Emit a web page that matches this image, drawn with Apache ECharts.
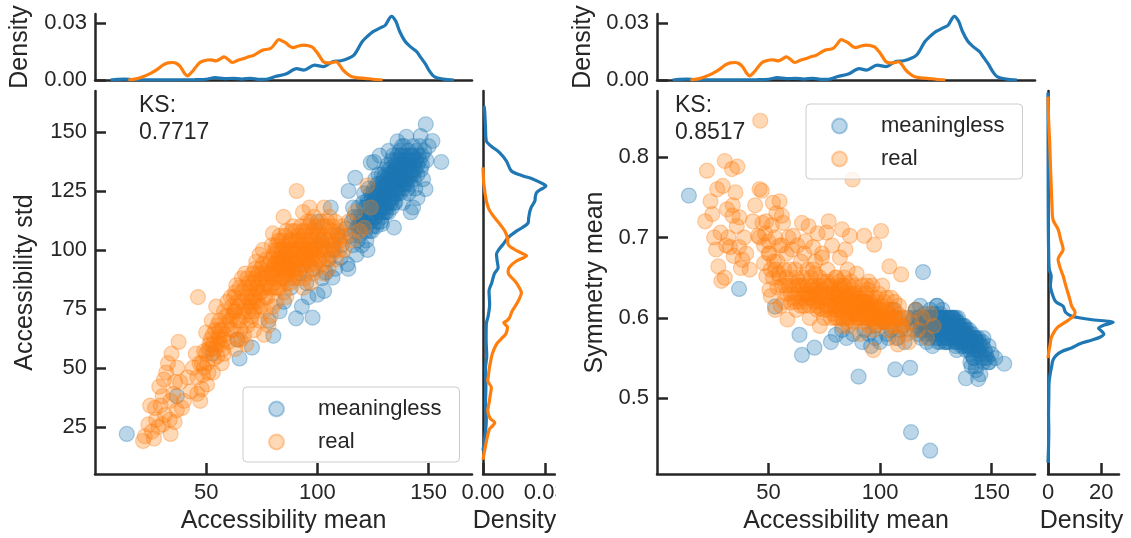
<!DOCTYPE html>
<html><head><meta charset="utf-8">
<script src="https://cdn.jsdelivr.net/npm/echarts@6/dist/echarts.min.js"></script>
<style>
html,body{margin:0;padding:0;background:#fff;}
#wrap{position:relative;width:1131px;height:538px;overflow:hidden;background:#fff;}
#left{position:absolute;left:0;top:0;width:556px;height:538px;}
#right{position:absolute;left:556px;top:0;width:575px;height:538px;}
</style></head>
<body><div id="wrap"><div id="left"></div><div id="right"></div></div>
<script>
// ---------------- DATA ----------------
const seriesNames = ['meaningless', 'real'];
const ksValues = ['0.7717', '0.8517'];
const meanTicks = [50, 100, 150];
const stdTicks = [25, 50, 75, 100, 125, 150];
const symTicks = [0.5, 0.6, 0.7, 0.8];
const densityTicksStd = [0, 0.03];
const densityTicksSym = [0, 20];

// each row: [Accessibility mean, Accessibility std, Symmetry mean]
const meaninglessPoints = [
[14.3,22,0.752],[36.8,38,0.636],[52.9,56,0.614],[65,54,0.554],[63.9,62,0.579],[70.6,58.6,0.563],[80.2,63.6,0.579],[90.4,71,0.527],[97.8,71.3,0.575],[93,76,0.585],
[100,81,0.57],[103,82.6,0.58],[106.8,88.3,0.536],[103.8,90.4,0.575],[110.5,96.7,0.59],[113.5,94,0.538],[113.9,92,0.458],[122.5,100,0.435],[109,106.6,0.585],[112.8,109,0.6],
[101.6,103.8,0.595],[88,84,0.58],[85,78,0.575],[95,86,0.58],[98,92,0.59],[105,96,0.585],[107,100,0.6],[111,102,0.57],[119.3,112,0.657],[116,118,0.61],
[117,130.6,0.6],[114,125,0.595],[124,137,0.6],[125.5,137.3,0.615],[100,112,0.6],[106,118,0.61],[92,90,0.57],[96,80,0.565],[102,88,0.6],[108,92,0.575],
[78,70,0.57],[83,74,0.585],
[115,106,0.6],[115.5,112,0.585],[116,102,0.61],[116.5,114,0.59],[117,108,0.58],[117.5,98,0.6],[118,110,0.595],[118.5,118,0.575],[118,104,0.615],[119,106,0.585],
[119.5,114,0.6],[120,110,0.605],[120.5,120,0.58],[120,102,0.59],[121,114,0.57],[121.5,108,0.6],[121,124,0.595],[122,118,0.585],[122.5,112,0.61],[122,104,0.575],
[123,120,0.6],[123.5,108,0.59],[123,126,0.58],[123.5,115,0.565],[124,112,0.595],[124.5,122,0.605],[124,118,0.58],[125,116,0.59],[125.5,126,0.575],[125,110,0.6],
[125.5,120,0.615],[126,122,0.585],[126.5,114,0.595],[126,130,0.57],[126.5,118,0.6],[127,120,0.58],[127.5,126,0.59],[127,112,0.605],[127.5,132,0.595],[127,117,0.57],
[128,124,0.6],[128.5,118,0.585],[128,128,0.575],[128.5,112,0.59],[128,121,0.61],[129,126,0.58],[129.5,120,0.595],[129,132,0.59],[129.5,116,0.57],[129,123,0.6],
[130,122,0.585],[130.5,128,0.6],[130,118,0.575],[130.5,134,0.58],[130,125,0.59],[131,126,0.595],[131.5,120,0.58],[131,130,0.57],[131.5,136,0.59],[131,116,0.6],
[132,124,0.585],[132.5,130,0.595],[132,120,0.575],[132.5,126,0.6],[132,134,0.58],[133,128,0.59],[133.5,122,0.57],[133,132,0.6],[133.5,118,0.585],[133,125,0.58],
[133.5,138,0.575],[134,130,0.585],[134.5,126,0.595],[134,122,0.565],[134.5,134,0.58],[134,127,0.6],[135,128,0.575],[135.5,132,0.59],[135,136,0.57],[135.5,124,0.585],
[135,120,0.595],[136,134,0.58],[136.5,128,0.565],[136,130,0.59],[136.5,138,0.585],[136,124,0.575],[137,132,0.57],[137.5,136,0.58],[137,126,0.59],[137.5,140,0.565],
[137,129,0.585],[138,134,0.575],[138.5,130,0.56],[138,138,0.585],[138.5,126,0.57],[139,136,0.58],[139.5,132,0.565],[139,128,0.575],[139.5,140,0.57],[140,134,0.56],
[140.5,138,0.575],[140,130,0.585],[140.5,126,0.545],[141,136,0.57],[141.5,132,0.58],[141,140,0.555],[142,138,0.565],[142.5,134,0.575],[142,128,0.55],[143,140,0.57],
[143.5,136,0.56],[143,132,0.54],[144,138,0.575],[144.5,142,0.56],[144,126,0.524],[145,136,0.565],[145.5,140,0.55],[146,144,0.57],[146.4,148.3,0.575],[146.5,134,0.545],
[147,140,0.56],[147.5,130,0.555],[148,142,0.55],[148.7,153.3,0.565],[148.6,125.8,0.545],[149,138,0.545],[150,144,0.555],[151.7,146.2,0.55],[155.7,137.3,0.543],[143,118,0.535],
[145,122,0.53],[142,116,0.55],[138.5,120,0.525],[134.4,109.5,0.56],[129,111,0.57],[141,124,0.54],[128,140,0.6],[132,142,0.59],[136,146,0.58],[140,148,0.57],
[138,144,0.575],[134,140,0.585],
[120,112,0.59],[121,118,0.6],[122,110,0.585],[122.5,121,0.59],[123,114,0.6],[124,124,0.585],[124.5,108,0.595],[125,120,0.58],[125.5,114,0.59],[126,124,0.6],
[126.5,110,0.575],[127,128,0.585],[127.5,116,0.6],[128,120,0.59],[128.5,126,0.58],[129,114,0.595],[129.5,129,0.585],[130,120,0.6],[130.5,116,0.59],[130,131,0.575],
[131,122,0.58],[131.5,128,0.59],[132,116,0.6],[132.5,122,0.575],[132,128,0.585],[133,120,0.595],[133.5,130,0.58],[133,135,0.59],[134,124,0.575],[134.5,120,0.59],
[134,133,0.57],[135,126,0.6],[135.5,130,0.58],[135,134,0.59],[136,126,0.585],[136.5,132,0.575],[136,140,0.57],[137,124,0.58],[137.5,130,0.59],[137,134,0.575],
[138,128,0.58],[138.5,136,0.57],[138,132,0.59],[139,130,0.585],[139.5,134,0.575],[139,138,0.565],[140,128,0.57],[140.5,132,0.58],[140,136,0.565],[141,130,0.575],
[141.5,138,0.57],[142,132,0.56],[142.5,140,0.575],[143,134,0.565],[143.5,130,0.57],[144,134,0.56],[144.5,138,0.57],[145,132,0.555],[146,138,0.565],[147,136,0.55],
[128,116,0.6],[129,118,0.585],[131,118,0.59],[133,126,0.6],[134,128,0.58],[136,136,0.57],[138,140,0.58],[127,122,0.59],[125,124,0.595],[123,117,0.605],
[121,111,0.59],[119,110,0.6],[118,114,0.585],[130,127,0.57],[132,132,0.6],[135,138,0.585],[137,142,0.575],[139,144,0.57],[141,142,0.565],[143,144,0.575]
];

const realPoints = [
[21.6,19,0.72],[22.4,21,0.783],[24,26,0.745],[24.8,34,0.729],[25.6,23,0.70],[26.5,20,0.685],[27.5,28,0.664],[28.5,25,0.706],[28.9,42,0.646],[29.5,34,0.764],
[30.4,26,0.795],[30.4,38,0.65],[31.4,30,0.735],[32,48,0.70],[32.8,52,0.688],[33.6,28,0.785],[33.9,36,0.727],[34.4,56,0.677],[35.2,39,0.756],[35.8,27,0.714],
[36.8,32,0.688],[37.6,61,0.662],[36,44,0.788],[38.3,44,0.672],[39.1,33,0.70],[34,22,0.74],[31,45,0.69],[37,50,0.725],[27,33,0.76],[40,36,0.68],
[41.6,46,0.66],[43,40,0.72],[45.3,56,0.702],[46,39,0.76],[46.3,80,0.845],[47.3,36,0.718],[48,41,0.668],[49,57,0.652],[50.4,43,0.635],[51,58,0.627],
[47,52,0.758],[52,62,0.743],[53,48,0.61],[54,66,0.638],[55,55,0.745],[56,70,0.727],[56.5,60,0.718],[57,52,0.62],[58,74,0.68],[58.5,64,0.598],
[59,68,0.70],[52.5,70,0.67],[50,65,0.695],[54.5,76,0.655],[57.5,58,0.64],[59.5,78,0.66],[53.5,54,0.73],[48.5,47,0.705],[55.5,63,0.615],[60,61,0.619],
[44,50,0.74],[50.5,52,0.68],[58,56,0.63],[56,66,0.69],[51.5,60,0.715],
[61,66,0.702],[62,72,0.66],[63,58,0.64],[64,78,0.62],[65,70,0.718],[66,82,0.68],[67,64,0.63],[68,76,0.714],[69,86,0.65],[62.5,80,0.61],
[64.5,62,0.67],[66.5,74,0.695],[68.5,68,0.60],[63.5,85,0.645],[61.5,76,0.625],[67.5,90,0.66],[65.5,66,0.65],[69.5,78,0.635],[60.5,70,0.685],[66,88,0.615],
[68,60,0.625],[63,74,0.69],[70,84,0.688],
[70.5,72,0.64],[71,90,0.67],[71.5,66,0.62],[72,80,0.705],[72.5,95,0.63],[73,76,0.65],[73.5,86,0.612],[74,70,0.68],[74.5,92,0.645],[75,82,0.6],
[75.5,100,0.625],[76,74,0.706],[76.4,88,0.66],[77,96,0.63],[77.5,80,0.615],[78,68,0.64],[78.5,90,0.69],[79,84,0.605],[79.5,102,0.635],[80,107,0.65],
[80,76,0.62],[71,78,0.655],[73,84,0.59],[74,98,0.675],[76,64,0.61],[77,86,0.72],[78,94,0.6],[79,72,0.63],[72,88,0.61],[75,90,0.64],
[76.5,80,0.645],[79.5,90,0.615],[70,76,0.66],
[80.5,86,0.63],[81,94,0.61],[81.5,78,0.645],[82,100,0.62],[82.5,90,0.6],[83,84,0.71],[83.5,96,0.64],[84,104,0.615],[84.8,114,0.625],[85,88,0.595],
[85.5,98,0.66],[86,80,0.63],[86.5,92,0.702],[87,102,0.61],[87.7,96,0.772],[88,86,0.62],[88.5,108,0.64],[89,94,0.6],[89.5,100,0.655],[90,90,0.615],
[90.7,125,0.63],[80.5,98,0.65],[81,84,0.6],[82,92,0.675],[83,106,0.59],[84,94,0.64],[85,82,0.625],[86,100,0.605],[87,90,0.645],[88,98,0.595],
[89,110,0.62],[81.5,102,0.635],[82.5,96,0.61],[83.5,88,0.62],[85.5,106,0.6],[86.5,86,0.61],[87.5,104,0.63],[89.5,88,0.605],[84.5,100,0.685],[86,94,0.59],
[88,92,0.635],[80,92,0.6],
[90.5,96,0.6],[91,104,0.625],[91.5,88,0.61],[92,100,0.64],[92.5,110,0.595],[92.9,94,0.702],[93.5,84,0.62],[94,106,0.605],[94.5,98,0.635],[95,90,0.59],
[95.5,112,0.615],[96,102,0.6],[96.5,94,0.625],[97,86,0.61],[97.4,106,0.691],[98,98,0.595],[98.5,114,0.62],[99,92,0.605],[99.5,102,0.63],[100,108,0.6],
[100.5,96,0.708],[91,92,0.58],[93,102,0.61],[94,88,0.64],[95,108,0.6],[96,96,0.615],[97,112,0.585],[98,90,0.625],[99,106,0.61],[92,96,0.62],
[93.5,116,0.6],[96.5,118,0.64],[98.5,100,0.6],[90,104,0.605],[95,96,0.645],[97.5,100,0.59],[94,102,0.62],
[101,100,0.61],[101.5,112,0.595],[102,94,0.62],[102.5,106,0.6],[103,118,0.625],[103.5,100,0.585],[104,110,0.605],[104.2,96,0.664],[105,104,0.61],[105.5,114,0.6],
[106,98,0.59],[106.5,108,0.62],[107,102,0.575],[108,112,0.605],[108.5,96,0.615],[109.5,106,0.654],[110,104,0.59],[101,106,0.64],[103,90,0.6],[105,92,0.625],
[111,110,0.6],[112,100,0.58],[113,106,0.57],[114,112,0.595],[116,104,0.61],[117,116,0.585],[119,108,0.6],[121,109.4,0.575],[122.5,127.4,0.605],[124,118,0.59],
[97,100,0.56],[108,104,0.567],
[60,72,0.63],[61,80,0.64],[62,66,0.62],[62.5,74,0.65],[63,82,0.63],[64,70,0.64],[64.5,76,0.615],[65,84,0.625],[65.5,62,0.64],[66,78,0.63],
[67,72,0.62],[67.5,84,0.64],[68,80,0.63],[68.5,88,0.615],[69,74,0.625],[69.5,82,0.64],[70,70,0.63],[70.5,80,0.62],[71,86,0.635],[71.5,74,0.625],
[72,92,0.615],[72.5,84,0.64],[73,78,0.63],[73.5,90,0.62],[74,82,0.635],[74.5,76,0.61],[75,88,0.625],[75.5,94,0.63],[76,84,0.615],[77,90,0.64],
[78,84,0.62],[79,96,0.63],[80,88,0.61],[80.5,94,0.625],[81,100,0.615],[81.5,90,0.63],[82,84,0.62],[82.5,104,0.61],[83,94,0.625],[83.5,100,0.6],
[84,88,0.62],[84.5,96,0.63],[85,102,0.61],[85.5,92,0.62],[86,108,0.6],[86.5,98,0.615],[87,94,0.625],[87.5,88,0.61],[88,104,0.62],[88.5,96,0.605],
[89,100,0.615],[89.5,92,0.62],[90,108,0.6],[90.5,100,0.61],[91,96,0.62],[91.5,106,0.605],[92,92,0.615],[92.5,102,0.6],[93,98,0.62],[93.5,108,0.61],
[94,94,0.6],[94.5,104,0.615],[95,100,0.605],[95.5,96,0.62],[96,110,0.6],[96.5,100,0.61],[97,104,0.6],[97.5,96,0.615],[98,108,0.605],[98.5,94,0.6],
[99,100,0.61],[99.5,110,0.595],[100,102,0.61],[82,96,0.64],[84,92,0.65],[86,90,0.64],[88,100,0.63],[90,94,0.625],[92,104,0.62],[94,98,0.63],
[100.5,106,0.6],[101,96,0.615],[102,102,0.595],[102.5,110,0.605],[103,98,0.61],[104,104,0.595],[104.5,112,0.6],[105,100,0.59],[106,106,0.6],[106.5,102,0.61],
[107,110,0.595],[108,100,0.6],[109,108,0.59],[110,100,0.6],[111,106,0.585],
[46,46,0.7],[48,52,0.69],[50,56,0.68],[51,48,0.66],[52,58,0.65],[53,64,0.66],[54,58,0.67],[55,68,0.65],[56,62,0.64],[57,66,0.66],
[58,62,0.65],[59,72,0.64],[53,60,0.7],[49,50,0.72],[55,60,0.69]
];

// KDE curves: [Accessibility mean, density]
const meaninglessMeanKde = [[7,0],[10,0.0003],[13.5,0.0005],[17,0.0002],[25,0.0001],[35,0.0001],[45,0.0002],[50,0.0004],[54,0.0012],[58,0.0007],[62,0.0009],[66,0.0005],[70,0.0009],[74,0.0003],[77,0.0004],[81,0.0018],[85.8,0.0031],[90.7,0.006],[93.9,0.0052],[98.7,0.0078],[102.7,0.007],[106.8,0.0096],[110.6,0.0101],[114,0.0114],[116.4,0.0131],[118,0.0158],[120.1,0.0201],[122.5,0.023],[125,0.0254],[128.5,0.0275],[130.5,0.0288],[133.3,0.0335],[135.2,0.031],[137,0.0255],[139.3,0.0205],[141.5,0.0178],[144.5,0.015],[146.5,0.0118],[148.6,0.0083],[150.5,0.0045],[152.5,0.0018],[156.6,0.0005],[161.4,0]];
const realMeanKde = [[15,0],[18.5,0.0006],[21.5,0.0017],[25,0.0035],[28,0.0056],[30.5,0.0078],[32.8,0.009],[35,0.0092],[36.5,0.0088],[38.4,0.007],[40.2,0.0035],[41.6,0.0022],[43.2,0.0038],[44.8,0.006],[46.5,0.0085],[48,0.0097],[50.5,0.0105],[52,0.0106],[54.5,0.0101],[56.5,0.0112],[58,0.0122],[59.8,0.0109],[61.7,0.0092],[64,0.0102],[66.6,0.0112],[69,0.0122],[71.4,0.013],[73.5,0.0145],[75.4,0.0157],[79,0.0166],[81,0.0192],[82.6,0.0213],[84,0.0206],[85.8,0.0195],[87.5,0.0178],[89,0.017],[91.5,0.0179],[93.9,0.0183],[96,0.018],[97.8,0.0172],[99.6,0.0148],[101,0.0125],[102.7,0.0096],[104.5,0.009],[106,0.009],[108.4,0.0096],[110,0.0078],[111.6,0.0052],[113.5,0.0032],[115.6,0.0017],[118.5,0.0011],[121.2,0.0009],[125,0.0004],[129.3,0]];
// [density, Accessibility std]
const meaninglessStdKde = [[0.0005,161],[0.0008,158.9],[0.0012,152],[0.0016,146.2],[0.004,144],[0.0081,141.2],[0.0113,137.7],[0.0137,133.5],[0.019,131.5],[0.0242,130],[0.0285,128.2],[0.0303,127.1],[0.0275,125.5],[0.0258,124.3],[0.0252,122.5],[0.025,120.8],[0.0235,118.5],[0.0226,116.5],[0.022,113.5],[0.0218,111.6],[0.019,109.5],[0.0161,108],[0.0121,105.2],[0.0097,102.4],[0.0075,100],[0.0065,98.2],[0.0068,95.5],[0.0073,92.5],[0.0055,90],[0.0042,86],[0.0029,82.6],[0.0032,77],[0.0025,72],[0.0016,68.6],[0.0015,62],[0.0018,55],[0.0012,50],[0.0014,42],[0.0012,35],[0.0016,28],[0.0011,22],[0.0005,18],[0,15]];
const realStdKde = [[0,135],[0.0004,128],[0.0016,120.8],[0.003,117],[0.0056,113.7],[0.0085,110.5],[0.0105,108],[0.0118,105],[0.0121,102.4],[0.015,100.3],[0.019,98.5],[0.021,97.5],[0.0185,96.3],[0.0161,95.3],[0.013,93],[0.0121,91.1],[0.0125,89.5],[0.0153,86.9],[0.0175,84],[0.0185,81.9],[0.0175,79.3],[0.0161,77],[0.014,74],[0.0128,71.3],[0.0115,70],[0.010,69.2],[0.0118,67.1],[0.011,64.4],[0.009,62.5],[0.0066,60.2],[0.0045,56],[0.0035,52],[0.0031,50.1],[0.0025,46],[0.0023,44.5],[0.004,41.7],[0.0035,38.5],[0.0031,36],[0.0023,31.8],[0.0035,28.5],[0.0057,26.8],[0.0045,25.3],[0.0031,24],[0.0017,19.1],[0.0005,13.6],[0,11]];
// [density, Symmetry mean]
const meaninglessSymKde = [[0,0.88],[0.05,0.8],[0.1,0.72],[0.3,0.67],[0.5,0.66],[1.2,0.652],[0.9,0.64],[1.9,0.627],[3,0.62],[5.7,0.6145],[6.6,0.607],[9,0.602],[16,0.598],[24.5,0.5945],[21,0.591],[19,0.587],[20,0.584],[21,0.58],[19.5,0.576],[16,0.572],[12,0.568],[9,0.563],[5,0.558],[3,0.553],[1.8,0.547],[1.4,0.54],[0.8,0.53],[0.4,0.52],[0.3,0.5],[0.2,0.48],[0.3,0.46],[0.2,0.44],[0.1,0.43],[0,0.42]];
const realSymKde = [[0,0.875],[0.1,0.86],[0.3,0.84],[0.6,0.82],[0.9,0.79],[1.26,0.76],[1.5,0.74],[1.9,0.722],[3.8,0.71],[4.8,0.697],[5.7,0.685],[4.5,0.678],[3.8,0.673],[4.6,0.662],[5.7,0.652],[6.6,0.641],[7.5,0.631],[8.3,0.622],[8.9,0.6145],[10.2,0.607],[9.5,0.602],[7.5,0.597],[5.2,0.592],[3.5,0.588],[2.2,0.582],[1.2,0.575],[0.7,0.565],[0.3,0.558],[0,0.55]];

// ---------------- STYLE ----------------
const FONT = '"Liberation Sans", Arial, Helvetica, sans-serif';
const INK = '#262626';
const BLUE = '31,119,180';
const ORANGE = '255,127,14';
const LW = 2.5;

function scatterSeries(name, rgb, data) {
  return {
    type: 'scatter', name: name, xAxisIndex: 0, yAxisIndex: 0,
    data: data, symbol: 'circle', symbolSize: 15,
    itemStyle: { color: 'rgba(' + rgb + ',0.3)', borderColor: 'rgba(' + rgb + ',0.35)', borderWidth: 1.2, opacity: 1 },
    emphasis: { disabled: true }, z: 2
  };
}
function kdeSeries(name, rgb, grid, data) {
  return {
    type: 'line', name: name, xAxisIndex: grid, yAxisIndex: grid,
    data: data, showSymbol: false, symbol: 'none', smooth: 0.3,
    lineStyle: { color: 'rgb(' + rgb + ')', width: 3.2 }, emphasis: { disabled: true }, z: 3
  };
}
function axisBase(extra) {
  return Object.assign({
    type: 'value',
    axisLine: { show: true, onZero: false, lineStyle: { color: INK, width: LW } },
    splitLine: { show: false },
    nameTextStyle: { fontSize: 25, color: INK, fontFamily: FONT }
  }, extra);
}
function ticked(values, fmt) {
  return {
    axisTick: { show: true, inside: true, length: 11, customValues: values, lineStyle: { color: INK, width: LW } },
    axisLabel: { show: true, customValues: values, margin: 8, fontSize: 22, color: INK, fontFamily: FONT, formatter: fmt, hideOverlap: false }
  };
}
const noTicks = { axisTick: { show: false }, axisLabel: { show: false } };

function buildOption(p) {
  const mainData0 = meaninglessPoints.map(r => [r[0], r[p.col]]);
  const mainData1 = realPoints.map(r => [r[0], r[p.col]]);
  const g = (l, t, w, h) => ({ left: l, top: t, width: w, height: h, containLabel: false, outerBoundsMode: 'none' });
  const densAxis = axisBase(Object.assign({ gridIndex: 2, min: 0, max: p.densMax, name: 'Density', nameLocation: 'middle', nameGap: 35 },
        ticked(p.densTicks, p.densFmt)));
  densAxis.nameTextStyle = { fontSize: 25, color: INK, fontFamily: FONT, padding: p.densNamePad };
  return {
    animation: false,
    backgroundColor: '#ffffff',
    textStyle: { fontFamily: FONT },
    title: {
      text: 'KS:\n' + p.ks, left: p.ksLeft, top: 92, padding: 0,
      textStyle: { fontSize: 23, fontWeight: 'normal', color: INK, lineHeight: 27, fontFamily: FONT }
    },
    legend: {
      data: seriesNames, orient: 'vertical', left: p.legLeft, top: p.legTop,
      padding: [11, 18, 9, 25], itemGap: 11, itemWidth: 15, itemHeight: 15, icon: 'circle',
      selectedMode: false, borderColor: '#cccccc', borderWidth: 1, borderRadius: 4,
      backgroundColor: 'rgba(255,255,255,0.8)',
      textStyle: { fontSize: 22, lineHeight: 22, color: INK, fontFamily: FONT, padding: [0, 0, 0, 29] }
    },
    grid: [
      g(p.mainLeft, 91, p.mainW, 383),
      g(p.mainLeft, 14, p.mainW, 66),
      g(p.margLeft, 91, p.margW, 383)
    ],
    xAxis: [
      axisBase(Object.assign({ gridIndex: 0, min: 0, max: 169.5, name: 'Accessibility mean', nameLocation: 'middle', nameGap: 35 },
        ticked(meanTicks, v => String(v)))),
      axisBase(Object.assign({ gridIndex: 1, min: 0, max: 169.5 }, noTicks)),
      densAxis
    ],
    yAxis: [
      axisBase(Object.assign({ gridIndex: 0, min: p.yMin, max: p.yMax, name: p.yName, nameLocation: 'middle', nameRotate: 90, nameGap: p.yNameGap },
        ticked(p.yTicks, p.yFmt))),
      axisBase(Object.assign({ gridIndex: 1, min: 0, max: 0.0347, name: 'Density', nameLocation: 'middle', nameRotate: 90, nameGap: p.dNameGap },
        ticked(densityTicksStd, v => v.toFixed(2)))),
      axisBase(Object.assign({ gridIndex: 2, min: p.yMin, max: p.yMax }, noTicks))
    ],
    series: [
      scatterSeries(seriesNames[0], BLUE, mainData0),
      scatterSeries(seriesNames[1], ORANGE, mainData1),
      kdeSeries('kde-top-0', BLUE, 1, meaninglessMeanKde),
      kdeSeries('kde-top-1', ORANGE, 1, realMeanKde),
      kdeSeries('kde-side-0', BLUE, 2, p.kde0),
      kdeSeries('kde-side-1', ORANGE, 2, p.kde1)
    ]
  };
}

const leftPanel = {
  col: 1, ks: ksValues[0], ksLeft: 139, legLeft: 243, legTop: 387,
  mainLeft: 95, mainW: 377, margLeft: 483, margW: 72,
  yMin: 5, yMax: 167.4, yTicks: stdTicks, yFmt: v => String(v), yName: 'Accessibility std', yNameGap: 57,
  dNameGap: 62, densMax: 0.0347, densTicks: densityTicksStd, densFmt: v => v.toFixed(2), densNamePad: [0, 9, 0, 0],
  kde0: meaninglessStdKde, kde1: realStdKde
};
const rightPanel = {
  col: 2, ks: ksValues[1], ksLeft: 119, legLeft: 250, legTop: 104,
  mainLeft: 101, mainW: 378, margLeft: 492, margW: 71,
  yMin: 0.406, yMax: 0.882, yTicks: symTicks, yFmt: v => v.toFixed(1), yName: 'Symmetry mean', yNameGap: 45,
  dNameGap: 61, densMax: 26.7, densTicks: densityTicksSym, densFmt: v => String(v), densNamePad: [0, 4, 0, 0],
  kde0: meaninglessSymKde, kde1: realSymKde
};

echarts.init(document.getElementById('left'), null, { renderer: 'canvas' }).setOption(buildOption(leftPanel));
echarts.init(document.getElementById('right'), null, { renderer: 'canvas' }).setOption(buildOption(rightPanel));
</script></body></html>
